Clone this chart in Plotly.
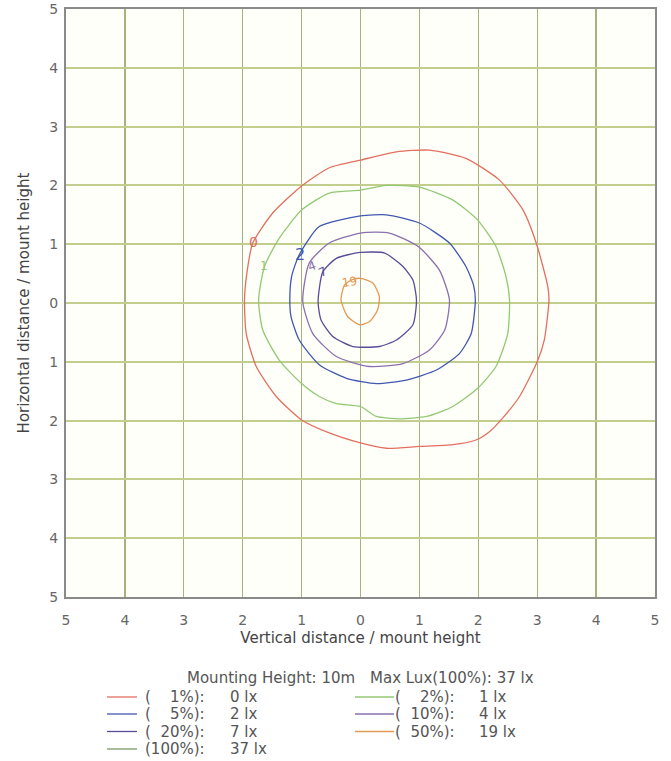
import plotly.graph_objects as go

# ---------------- data ----------------
levels_pct = ["1%", "2%", "5%", "10%", "20%", "50%", "100%"]
levels_lux = [0, 1, 2, 4, 7, 19, 37]
level_colors = ["#e2705f", "#93c873", "#4258b0", "#8a70ae", "#5a4c98", "#e29a55", "#7a9a68"]

# iso-lux contours (x: vertical distance, y: horizontal distance, in mount heights)
c0_x = [-1.97, -1.94, -1.77, -1.43, -1.0, -0.53, 0.0, 0.44, 1.0, 1.57, 1.96, 2.2, 2.42, 2.7, 3.0, 3.12, 3.2,
        3.18, 2.99, 2.76, 2.36, 1.79, 1.17, 0.61, 0.0, -0.53, -1.0, -1.49, -1.83, -1.93, -1.97]
c0_y = [0.05, -0.52, -1.08, -1.59, -1.99, -2.21, -2.38, -2.47, -2.44, -2.41, -2.33, -2.18, -1.95, -1.59, -1.0, -0.63, 0.05,
        0.28, 1.0, 1.58, 2.09, 2.46, 2.6, 2.57, 2.43, 2.3, 1.99, 1.53, 1.02, 0.5, 0.05]

c1_x = [-1.73, -1.66, -1.38, -1.0, -0.7, -0.41, 0.0, 0.27, 0.66, 1.12, 1.57, 1.99, 2.3, 2.5, 2.53,
        2.47, 2.3, 1.99, 1.57, 1.0, 0.44, 0.0, -0.53, -1.0, -1.4, -1.63, -1.73]
c1_y = [0.05, -0.46, -0.97, -1.37, -1.59, -1.71, -1.76, -1.93, -1.97, -1.93, -1.76, -1.45, -1.08, -0.52, 0.05,
        0.45, 0.96, 1.41, 1.75, 1.97, 2.0, 1.92, 1.87, 1.58, 1.07, 0.62, 0.05]

c2_x = [-1.2, -1.18, -1.04, -0.7, -0.24, 0.27, 0.78, 1.29, 1.68, 1.88, 1.95, 1.92, 1.79, 1.51, 1.0,
        0.44, 0.0, -0.7, -1.04, -1.17, -1.2]
c2_y = [0.05, -0.23, -0.63, -1.05, -1.28, -1.37, -1.31, -1.14, -0.86, -0.52, 0.05, 0.3, 0.62, 1.02, 1.36,
        1.5, 1.48, 1.3, 0.82, 0.45, 0.05]

c4_x = [-0.98, -0.81, -0.41, 0.15, 0.72, 1.17, 1.43, 1.51, 1.34, 0.98, 0.49, 0.0, -0.53, -0.87, -0.98]
c4_y = [0.02, -0.52, -0.91, -1.08, -1.03, -0.8, -0.46, 0.05, 0.56, 0.96, 1.19, 1.19, 1.02, 0.68, 0.02]

c7_x = [-0.72, -0.67, -0.47, -0.13, 0.32, 0.61, 0.89, 0.95, 0.89, 0.72, 0.41, 0.0, -0.41, -0.64, -0.72]
c7_y = [0.02, -0.29, -0.57, -0.74, -0.74, -0.63, -0.37, 0.05, 0.39, 0.62, 0.85, 0.86, 0.76, 0.53, 0.02]

c19_x = [-0.33, -0.22, -0.02, 0.15, 0.29, 0.32, 0.21, 0.0, -0.13, -0.27, -0.33]
c19_y = [0.05, -0.23, -0.37, -0.32, -0.12, 0.11, 0.34, 0.42, 0.4, 0.31, 0.05]

contours = [(c0_x, c0_y, 0), (c1_x, c1_y, 1), (c2_x, c2_y, 2), (c4_x, c4_y, 3), (c7_x, c7_y, 4), (c19_x, c19_y, 5)]

# contour label positions
label_text = ["0", "1", "2", "4", "7", "19"]
label_x = [-1.82, -1.63, -1.02, -0.82, -0.64, -0.19]
label_y = [1.04, 0.63, 0.82, 0.63, 0.53, 0.36]
label_angle = [0, 0, 0, -20, -25, -10]
label_size = [14, 12, 16, 12, 12, 12]

tick_vals = [-5, -4, -3, -2, -1, 0, 1, 2, 3, 4, 5]
tick_text = ["5", "4", "3", "2", "1", "0", "1", "2", "3", "4", "5"]

mount_height = "10m"
max_lux = 37

# ---------------- figure ----------------
W, H = 671, 761
PL, PR, PT, PB = 66, 655, 9, 597

def px_x(px):
    return (px - PL) / (PR - PL)

def px_y(py):
    return (PB - py) / (PB - PT)

fig = go.Figure()
for cx, cy, i in contours:
    fig.add_trace(go.Scatter(x=cx, y=cy, mode="lines",
                             line=dict(color=level_colors[i], width=1.3, shape="spline", smoothing=0.6),
                             hoverinfo="skip", showlegend=False))

font_main = "DejaVu Sans, Verdana, sans-serif"
TXT = "#555555"
annotations = []
for t, x, y, a, s, i in zip(label_text, label_x, label_y, label_angle, label_size, range(6)):
    annotations.append(dict(x=x, y=y, xref="x", yref="y", text=t, showarrow=False,
                            textangle=a, font=dict(family=font_main, size=s, color=level_colors[i])))

# legend block below the plot
annotations.append(dict(x=px_x(185), y=px_y(678), xref="paper", yref="paper", xanchor="left", yanchor="middle",
                        text="Mounting Height: %s" % mount_height,
                        showarrow=False, font=dict(family=font_main, size=15, color=TXT)))
annotations.append(dict(x=px_x(368), y=px_y(678), xref="paper", yref="paper", xanchor="left", yanchor="middle",
                        text="Max Lux(100%%): %d lx" % max_lux,
                        showarrow=False, font=dict(family=font_main, size=15, color=TXT)))

left_items = [0, 2, 4, 6]
right_items = [1, 3, 5]
row_py = [697, 714, 731.5, 749]
shapes = []


def pct_label(p):
    missing = 4 - len(p)
    return "(" + "\u00a0" * (2 * missing) + p + "):"


for col_items, line_x0, line_x1, pct_end_x, val_x in [(left_items, 107, 137, 207, 228),
                                                       (right_items, 355, 394, 457, 477)]:
    for r, i in enumerate(col_items):
        py = row_py[r]
        shapes.append(dict(type="line", xref="paper", yref="paper",
                           x0=px_x(line_x0), x1=px_x(line_x1), y0=px_y(py), y1=px_y(py),
                           line=dict(color=level_colors[i], width=1.3)))
        annotations.append(dict(x=px_x(pct_end_x), y=px_y(py), xref="paper", yref="paper",
                                xanchor="right", yanchor="middle", showarrow=False,
                                text=pct_label(levels_pct[i]),
                                font=dict(family=font_main, size=15, color=TXT)))
        annotations.append(dict(x=px_x(val_x), y=px_y(py), xref="paper", yref="paper",
                                xanchor="left", yanchor="middle", showarrow=False,
                                text="%d lx" % levels_lux[i],
                                font=dict(family=font_main, size=15, color=TXT)))

axis_common = dict(range=[-5, 5], tickvals=tick_vals, ticktext=tick_text, showline=True, mirror=True,
                   linecolor="#8a8a8a", linewidth=2, zeroline=False, ticks="",
                   tickfont=dict(family=font_main, size=14, color="#666666"), fixedrange=True)

fig.update_layout(
    width=W, height=H,
    margin=dict(l=PL, r=W - PR, t=PT, b=H - PB, autoexpand=False),
    paper_bgcolor="white", plot_bgcolor="#fffffa",
    xaxis=dict(**axis_common, gridcolor="#a9b27e", gridwidth=1.3,
               title=dict(text="Vertical distance / mount height", standoff=6,
                          font=dict(family=font_main, size=15, color="#444444")),
               ticklabelstandoff=9),
    yaxis=dict(**axis_common, gridcolor="#c2cf8c", gridwidth=2,
               title=dict(text="Horizontal distance / mount height", standoff=16,
                          font=dict(family=font_main, size=15, color="#444444")),
               ticklabelstandoff=3),
    annotations=annotations, shapes=shapes, showlegend=False,
)

fig.write_html("out.html", config={"displayModeBar": False, "staticPlot": True},
               post_script="document.body.style.margin='0px';document.body.style.overflow='hidden';")
